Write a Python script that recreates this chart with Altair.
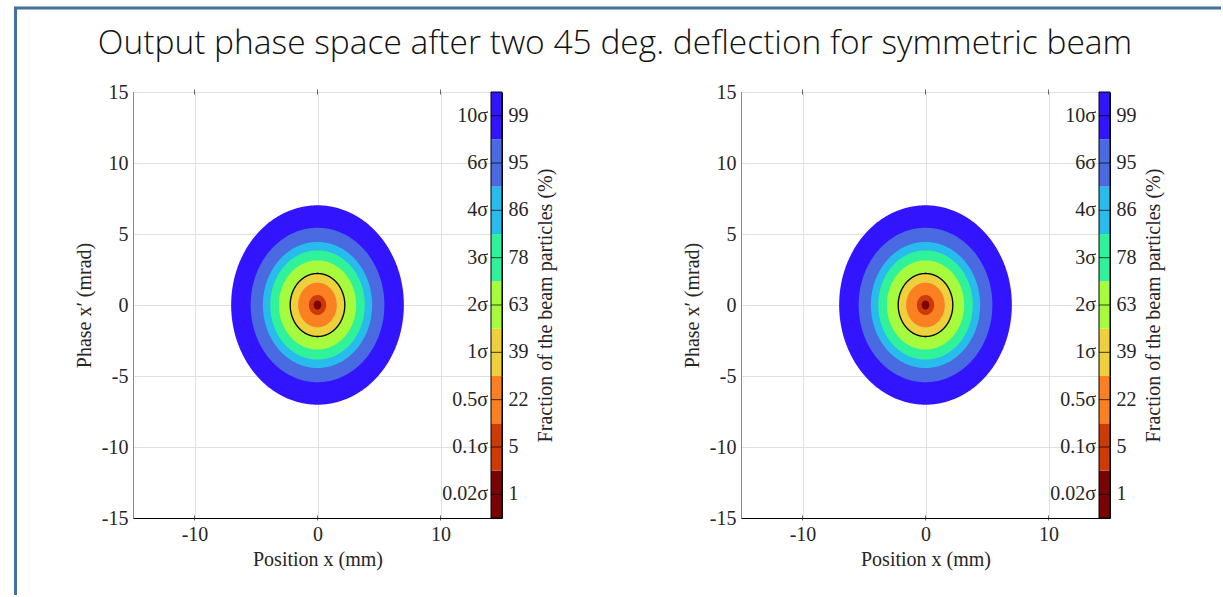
import altair as alt
import numpy as np
import pandas as pd

# Emittance multiples of the rms ellipse, the beam fraction they enclose, and fill colours
sigma_labels = ["0.02σ", "0.1σ", "0.5σ", "1σ", "2σ", "3σ", "4σ", "6σ", "10σ"]
emittance_mult = [0.02, 0.1, 0.5, 1, 2, 3, 4, 6, 10]
fraction_pct = [1, 5, 22, 39, 63, 78, 86, 95, 99]
level_colors = ["#7a0403", "#cc3a06", "#fb8022", "#edd03b", "#a5fb3c",
                "#30f29a", "#27bceb", "#4a6ae2", "#3214fe"]

# rms beam size in position and phase
sigma_x_mm = 2.22
sigma_xp_mrad = 2.22
outline_level = 1  # emittance multiple drawn as black contour

x_ticks = [-10, 0, 10]
y_ticks = [-15, -10, -5, 0, 5, 10, 15]
axis_range = [-15, 15]
title_text = "Output phase space after two 45 deg. deflection for symmetric beam"

W, H = 369, 426
CB_W = 11
SERIF = "Liberation Serif"
FS = 20

theta_half = np.linspace(0, np.pi, 361)
theta_full = np.linspace(0, 2 * np.pi, 721)

xs = alt.Scale(domain=axis_range, nice=False, zero=False)
ys = alt.Scale(domain=axis_range, nice=False, zero=False)
X = alt.X("x:Q", scale=xs, title="Position x (mm)",
          axis=alt.Axis(values=x_ticks, ticks=False, domainColor="#000000",
                        labelExpr="datum.value + ''", labelPadding=6, titlePadding=5,
                        grid=True))
Y = alt.Y("y:Q", scale=ys, title="Phase x′ (mrad)",
          axis=alt.Axis(values=y_ticks, ticks=False, domainColor="#8a8a8a",
                        labelExpr="datum.value + ''", labelPadding=5, titlePadding=7,
                        grid=True))


def level_area(k, color):
    a = sigma_x_mm * np.sqrt(k)
    b = sigma_xp_mrad * np.sqrt(k)
    df = pd.DataFrame({"x": a * np.cos(theta_half),
                       "y": b * np.sin(theta_half),
                       "y2": -b * np.sin(theta_half)})
    return alt.Chart(df).mark_area(color=color, opacity=1).encode(x=X, y=Y, y2="y2:Q")


def panel(decorated):
    # filled contour bands, outermost first so inner bands sit on top
    bands = [level_area(k, c) for k, c in sorted(zip(emittance_mult, level_colors),
                                                 key=lambda t: -t[0])]

    a1 = sigma_x_mm * np.sqrt(outline_level)
    b1 = sigma_xp_mrad * np.sqrt(outline_level)
    ring_df = pd.DataFrame({"x": a1 * np.cos(theta_full), "y": b1 * np.sin(theta_full),
                            "i": np.arange(theta_full.size)})
    ring = alt.Chart(ring_df).mark_line(color="black", strokeWidth=1.3).encode(
        x=X, y=Y, order="i:Q")

    # inward tick marks on bottom and top edges
    tick_df = pd.DataFrame({"x": x_ticks * 2,
                            "y": [axis_range[0]] * len(x_ticks) + [axis_range[1]] * len(x_ticks),
                            "off": [-2.5] * len(x_ticks) + [2.5] * len(x_ticks)})
    edge_ticks = alt.Chart(tick_df).mark_tick(orient="vertical", size=5, thickness=1,
                                              color="#262626").encode(
        x=X, y=Y, yOffset="off:Q")

    main = alt.layer(*bands, ring, edge_ticks)

    # colour bar inside the right edge of the axes
    cb_df = pd.DataFrame({"pct": [str(p) for p in fraction_pct],
                          "sig": sigma_labels, "col": level_colors})
    order = [str(p) for p in fraction_pct[::-1]]
    CY = alt.Y("pct:O", sort=order, scale=alt.Scale(paddingInner=0, paddingOuter=0),
               axis=alt.Axis(orient="right", ticks=False, domain=False, grid=False,
                             labelAngle=0, labelPadding=6, titleAngle=270,
                             titleX=43, titleY=H / 2, titleAlign="center",
                             titleBaseline="middle",
                             title="Fraction of the beam particles (%)"))
    cb_rect = alt.Chart(cb_df).mark_rect().encode(
        x=alt.value(W - CB_W), x2=alt.value(W), y=CY,
        color=alt.Color("col:N", scale=None))
    cb_ticks = alt.Chart(cb_df).mark_tick(orient="horizontal", size=CB_W, thickness=1,
                                          color="black").encode(
        x=alt.value(W - CB_W / 2), y=CY)
    cb_sig = alt.Chart(cb_df).mark_text(align="right", baseline="middle", font=SERIF,
                                        fontSize=FS, color="#262626").encode(
        x=alt.value(W - CB_W - 3), y=CY, text="sig:N")
    cb_frame = alt.Chart(pd.DataFrame({"a": [0]})).mark_rect(
        fillOpacity=0, stroke="black", strokeWidth=1).encode(
        x=alt.value(W - CB_W), x2=alt.value(W), y=alt.value(0), y2=alt.value(H))
    cbar = alt.layer(cb_rect, cb_ticks, cb_sig, cb_frame)

    layers = [main, cbar]
    if decorated:
        one = pd.DataFrame({"t": [title_text]})
        title = alt.Chart(one).mark_text(font="Open Sans", fontSize=33.5, fontWeight=300,
                                         align="center", baseline="middle",
                                         color="#111111").encode(
            x=alt.value(482), y=alt.value(-48), text="t:N")
        frame_left = alt.Chart(one).mark_rule(color="#41719c", strokeWidth=3).encode(
            x=alt.value(-117.5), y=alt.value(-85), y2=alt.value(503))
        frame_top = alt.Chart(one).mark_rule(color="#41719c", strokeWidth=3).encode(
            x=alt.value(-119), x2=alt.value(1088), y=alt.value(-84))
        layers += [title, frame_left, frame_top]
    return alt.layer(*layers).resolve_scale(y="independent").properties(width=W, height=H)


chart = alt.hconcat(panel(True), panel(False), spacing=239, bounds="flush").properties(
    padding={"left": 12, "top": 5, "right": 0, "bottom": 0},
    background="white",
).configure_view(stroke="#000000", strokeWidth=1).configure_axis(
    labelFont=SERIF, labelFontSize=FS, labelColor="#262626",
    titleFont=SERIF, titleFontSize=FS, titleFontWeight="normal", titleColor="#262626",
    gridColor="#e0e0e0", gridWidth=1,
)

chart.save("out.html", embed_options={"renderer": "svg", "actions": False})
